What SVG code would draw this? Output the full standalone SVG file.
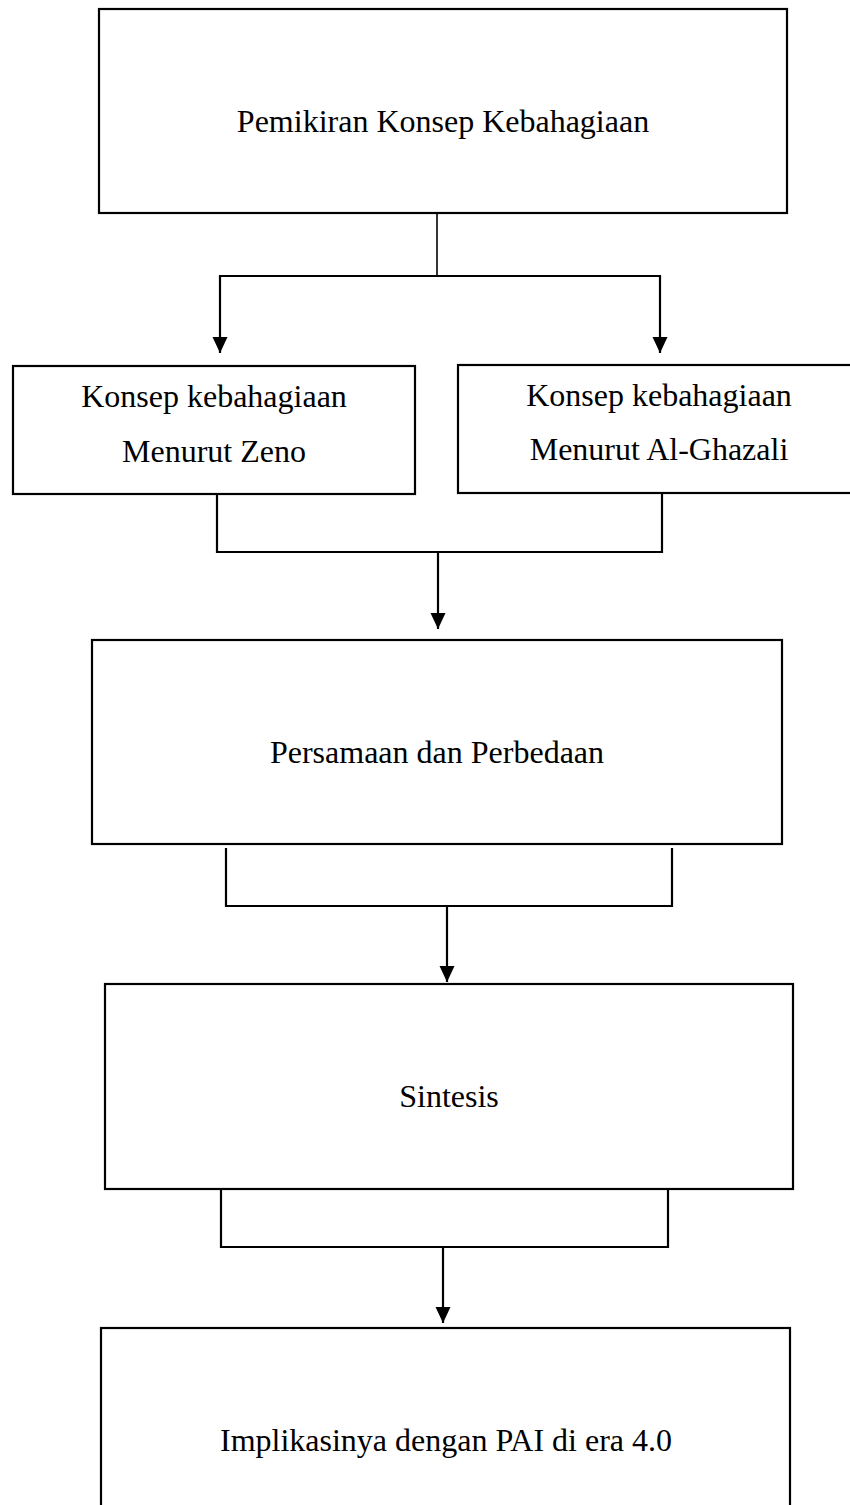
<svg xmlns="http://www.w3.org/2000/svg" width="850" height="1505" viewBox="0 0 850 1505">
<style>
.box{fill:#fff;stroke:#000;stroke-width:2.2}
.lbl{font-family:"Liberation Serif","Times New Roman",serif;font-size:32px;fill:#000;text-anchor:middle}
.ln{fill:none;stroke:#000;stroke-width:2.2}
.thin{fill:none;stroke:#000;stroke-width:1.6}
</style>
<defs>
<marker id="ah" markerUnits="userSpaceOnUse" markerWidth="16" markerHeight="16" refX="16" refY="7.5" orient="auto">
<path d="M0,0 L16,7.5 L0,15 z" fill="#000"/>
</marker>
</defs>
<rect width="850" height="1505" fill="#fff"/>
<g id="connectors">
<line class="thin" x1="437" y1="213" x2="437" y2="276"/>
<line class="ln" x1="220" y1="276" x2="660" y2="276"/>
<line class="ln" x1="220" y1="275" x2="220" y2="353" marker-end="url(#ah)"/>
<line class="ln" x1="660" y1="275" x2="660" y2="353" marker-end="url(#ah)"/>
<polyline class="ln" points="217,494 217,552 662,552 662,493"/>
<line class="ln" x1="438" y1="552" x2="438" y2="629" marker-end="url(#ah)"/>
<polyline class="ln" points="226,848 226,906 672,906 672,848"/>
<line class="ln" x1="447" y1="906" x2="447" y2="982" marker-end="url(#ah)"/>
<polyline class="ln" points="221,1189 221,1247 668,1247 668,1189"/>
<line class="ln" x1="443" y1="1247" x2="443" y2="1323" marker-end="url(#ah)"/>
</g>
<g id="node-pemikiran">
<rect class="box" x="99" y="9" width="688" height="204"/>
<text class="lbl" x="443" y="132">Pemikiran Konsep Kebahagiaan</text>
</g>
<g id="node-zeno">
<rect class="box" x="13" y="366" width="402" height="128"/>
<text class="lbl" x="214" y="407">Konsep kebahagiaan</text>
<text class="lbl" x="214" y="462">Menurut Zeno</text>
</g>
<g id="node-ghazali">
<rect class="box" x="458" y="365" width="400" height="128"/>
<text class="lbl" x="659" y="406">Konsep kebahagiaan</text>
<text class="lbl" x="659" y="460">Menurut Al-Ghazali</text>
</g>
<g id="node-persamaan">
<rect class="box" x="92" y="640" width="690" height="204"/>
<text class="lbl" x="437" y="763">Persamaan dan Perbedaan</text>
</g>
<g id="node-sintesis">
<rect class="box" x="105" y="984" width="688" height="205"/>
<text class="lbl" x="449" y="1107">Sintesis</text>
</g>
<g id="node-implikasi">
<rect class="box" x="101" y="1328" width="689" height="200"/>
<text class="lbl" x="446" y="1451">Implikasinya dengan PAI di era 4.0</text>
</g>
</svg>
